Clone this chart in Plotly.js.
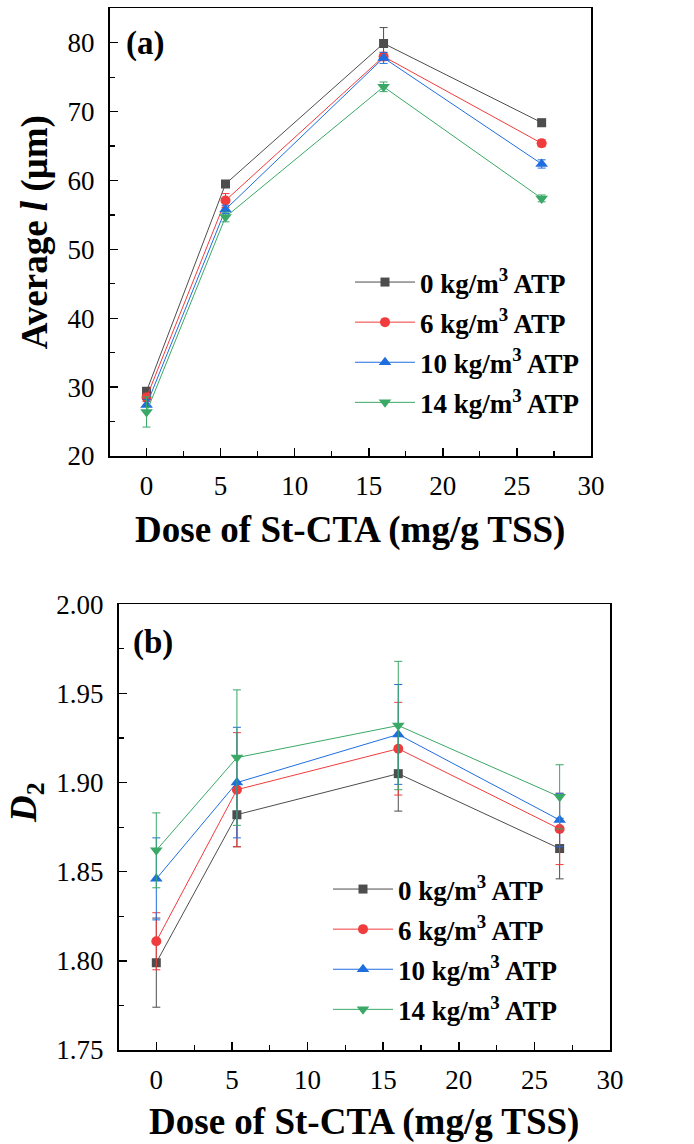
<!DOCTYPE html>
<html>
<head>
<meta charset="utf-8">
<script src="https://cdn.plot.ly/plotly-3.0.1.min.js"></script>
<style>html,body{margin:0;padding:0;background:#fff;}#chart{width:694px;height:1144px;}</style>
</head>
<body>
<div id="chart"></div>
<script>
// ---- data ----
var doses = [0, 5.33, 16, 26.67];
var seriesNames = ["0 kg/m<sup>3</sup> ATP", "6 kg/m<sup>3</sup> ATP", "10 kg/m<sup>3</sup> ATP", "14 kg/m<sup>3</sup> ATP"];

// (a) Average l (um)
var avgL_0  = [29.4, 59.5, 79.9, 68.4];
var avgL_6  = [28.5, 57.1, 78.0, 65.4];
var avgL_10 = [27.4, 55.8, 77.8, 62.4];
var avgL_14 = [26.4, 54.7, 73.6, 57.4];
var errL_0  = [0.5, 0.5, 2.3, 0.5];
var errL_6  = [0.6, 1.0, 0.6, 0.5];
var errL_10 = [0.8, 0.6, 0.8, 0.6];
var errL_14 = [2.2, 0.7, 0.7, 0.5];

// (b) D2
var d2_0  = [1.799, 1.882, 1.905, 1.863];
var d2_6  = [1.811, 1.896, 1.919, 1.874];
var d2_10 = [1.846, 1.900, 1.927, 1.879];
var d2_14 = [1.862, 1.914, 1.932, 1.892];
var errD_0  = [0.025, 0.018, 0.021, 0.017];
var errD_6  = [0.016, 0.032, 0.026, 0.020];
var errD_10 = [0.023, 0.031, 0.028, 0.015];
var errD_14 = [0.021, 0.038, 0.036, 0.018];

var xTickVals = [0, 5, 10, 15, 20, 25, 30];
var yTickValsA = [20, 30, 40, 50, 60, 70, 80];
var yTickValsB = [1.75, 1.80, 1.85, 1.90, 1.95, 2.00];

// ---- styles ----
var colors = ["#4d4d4d", "#f03c3c", "#1f6ee0", "#3aa866"];
var symbols = ["square", "circle", "triangle-up", "triangle-down"];
var msizes = [9, 10, 11, 11];
var FONT = "Liberation Serif";

var aVals = [avgL_0, avgL_6, avgL_10, avgL_14];
var aErr = [errL_0, errL_6, errL_10, errL_14];
var bVals = [d2_0, d2_6, d2_10, d2_14];
var bErr = [errD_0, errD_6, errD_10, errD_14];

var traces = [];
for (var i = 0; i < 4; i++) {
  traces.push({
    x: doses, y: aVals[i], type: "scatter", mode: "lines+markers",
    name: seriesNames[i], xaxis: "x", yaxis: "y", legend: "legend",
    legendgroup: "a" + i,
    line: {color: colors[i], width: 1},
    marker: {color: colors[i], symbol: symbols[i], size: msizes[i]},
    error_y: {type: "data", array: aErr[i], visible: true, color: colors[i], thickness: 1, width: 4}
  });
}
for (var j = 0; j < 4; j++) {
  traces.push({
    x: doses, y: bVals[j], type: "scatter", mode: "lines+markers",
    name: seriesNames[j], xaxis: "x2", yaxis: "y2", legend: "legend2",
    legendgroup: "b" + j,
    line: {color: colors[j], width: 1},
    marker: {color: colors[j], symbol: symbols[j], size: msizes[j]},
    error_y: {type: "data", array: bErr[j], visible: true, color: colors[j], thickness: 1, width: 4}
  });
}

var W = 694, H = 1144;
function px(v){return v / W;}
function py(v){return 1 - v / H;}

var TITLE_FONT = {family: FONT, size: 37, weight: "bold", color: "#000"};

var axisCommon = {
  showline: true, linecolor: "#000", linewidth: 1.5, mirror: true,
  ticks: "inside", ticklen: 8, tickwidth: 1.5, tickcolor: "#000",
  showgrid: false, zeroline: false,
  tickfont: {family: FONT, size: 27, color: "#000"},
  automargin: false, fixedrange: true
};
function ax(extra){ var o = {}; for (var k in axisCommon) o[k] = axisCommon[k]; for (var k2 in extra) o[k2] = extra[k2]; return o; }

var layout = {
  width: W, height: H,
  margin: {l: 0, r: 0, t: 0, b: 0},
  paper_bgcolor: "#fff", plot_bgcolor: "#fff",
  font: {family: FONT, color: "#000"},
  xaxis: ax({
    domain: [px(109.5), px(591)], anchor: "y", range: [-2.5, 30],
    tickmode: "array", tickvals: xTickVals, ticklabelstandoff: 5,
    minor: {dtick: 2.5, tick0: 0, ticks: "inside", ticklen: 5, tickwidth: 1.2, tickcolor: "#000"},
    title: {text: "Dose of St-CTA (mg/g TSS)", font: TITLE_FONT, standoff: 16}
  }),
  yaxis: ax({
    domain: [py(456), py(8.3)], anchor: "x", range: [20, 85],
    tickmode: "array", tickvals: yTickValsA, ticklabelstandoff: 8,
    minor: {dtick: 5, tick0: 0, ticks: "inside", ticklen: 5, tickwidth: 1.2, tickcolor: "#000"},
    title: {text: "Average <i>l</i> (μm)", font: TITLE_FONT, standoff: 8}
  }),
  xaxis2: ax({
    domain: [px(118.5), px(610)], anchor: "y2", range: [-2.5, 30],
    tickmode: "array", tickvals: xTickVals, ticklabelstandoff: 5,
    minor: {dtick: 2.5, tick0: 0, ticks: "inside", ticklen: 5, tickwidth: 1.2, tickcolor: "#000"},
    title: {text: "Dose of St-CTA (mg/g TSS)", font: TITLE_FONT, standoff: 14}
  }),
  yaxis2: ax({
    domain: [py(1050), py(604.3)], anchor: "x2", range: [1.75, 2.00],
    tickmode: "array", tickvals: yTickValsB, tickformat: ".2f", ticklabelstandoff: 8,
    minor: {dtick: 0.025, tick0: 1.75, ticks: "inside", ticklen: 5, tickwidth: 1.2, tickcolor: "#000"}
  }),
  legend: {
    x: px(350), y: py(258), xanchor: "left", yanchor: "top",
    bgcolor: "rgba(0,0,0,0)", borderwidth: 0, itemwidth: 60, tracegroupgap: 2,
    font: {family: FONT, size: 27, weight: "bold", color: "#000"}
  },
  legend2: {
    x: px(328), y: py(865), xanchor: "left", yanchor: "top",
    bgcolor: "rgba(0,0,0,0)", borderwidth: 0, itemwidth: 60, tracegroupgap: 2,
    font: {family: FONT, size: 27, weight: "bold", color: "#000"}
  },
  showlegend: true,
  annotations: [
    {text: "(a)", xref: "paper", yref: "paper", x: px(145), y: py(43), xanchor: "center", yanchor: "middle", showarrow: false,
     font: {family: FONT, size: 33, weight: "bold", color: "#000"}},
    {text: "(b)", xref: "paper", yref: "paper", x: px(153), y: py(642), xanchor: "center", yanchor: "middle", showarrow: false,
     font: {family: FONT, size: 33, weight: "bold", color: "#000"}},
    {text: "<i>D</i><sub>2</sub>", xref: "paper", yref: "paper", x: px(27), y: py(803), xanchor: "center", yanchor: "middle",
     textangle: -90, showarrow: false, font: TITLE_FONT}
  ]
};

Plotly.newPlot("chart", traces, layout, {displayModeBar: false, staticPlot: true});
</script>
</body>
</html>
